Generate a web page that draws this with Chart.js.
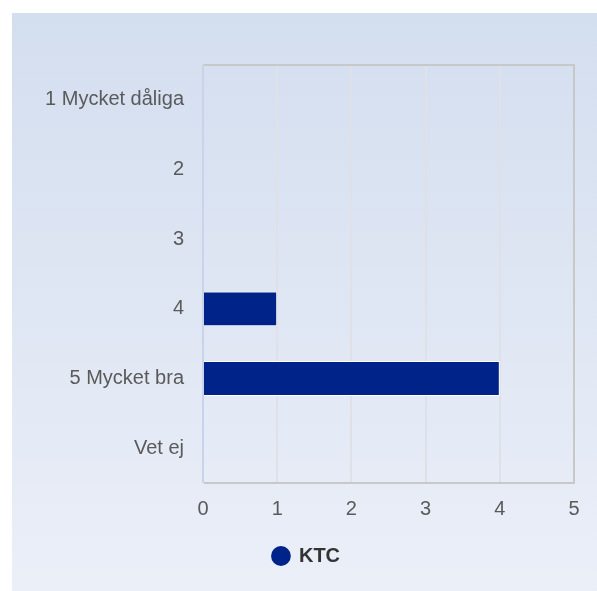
<!DOCTYPE html>
<html>
<head>
<meta charset="utf-8">
<script src="https://cdn.jsdelivr.net/npm/chart.js@4/dist/chart.umd.min.js"></script>
<style>
html,body{margin:0;padding:0;background:#fff;}
#wrap{position:absolute;left:0;top:0;width:597px;height:591px;}
</style>
</head>
<body>
<div id="wrap"><canvas id="c" width="597" height="591"></canvas></div>
<script>
const categories = ["1 Mycket dåliga", "2", "3", "4", "5 Mycket bra", "Vet ej"];
const seriesName = "KTC";
const values = [0, 0, 0, 1, 4, 0];
const xTicks = [0, 1, 2, 3, 4, 5];

const PAD_LEFT = 39;
const bgPlugin = {
  id: 'bg',
  beforeDraw(chart) {
    const ctx = chart.ctx;
    ctx.save();
    ctx.fillStyle = '#ffffff';
    ctx.fillRect(0, 0, chart.width, chart.height);
    const g = ctx.createLinearGradient(0, 13, 0, chart.height);
    g.addColorStop(0, '#d3deef');
    g.addColorStop(1, '#ebeff8');
    ctx.fillStyle = g;
    ctx.fillRect(12, 13, chart.width - 12, chart.height - 13);
    ctx.restore();
  },
  afterDraw(chart) {
    const a = chart.chartArea;
    const ctx = chart.ctx;
    ctx.save();
    ctx.strokeStyle = '#c8c8c8';
    ctx.lineWidth = 2;
    ctx.beginPath();
    ctx.moveTo(a.left, a.top);
    ctx.lineTo(a.right, a.top);
    ctx.lineTo(a.right, a.bottom);
    ctx.lineTo(a.left + 1, a.bottom);
    ctx.stroke();
    ctx.strokeStyle = '#c9d4ea';
    ctx.beginPath();
    ctx.moveTo(a.left, a.top);
    ctx.lineTo(a.left, a.bottom);
    ctx.stroke();
    ctx.restore();
  }
};

new Chart(document.getElementById('c'), {
  type: 'bar',
  data: {
    labels: categories,
    datasets: [{
      label: seriesName,
      data: values,
      backgroundColor: '#00238a',
      borderColor: '#ffffff',
      borderWidth: 1,
      barPercentage: 0.5,
      categoryPercentage: 1.0
    }]
  },
  options: {
    indexAxis: 'y',
    responsive: false,
    animation: false,
    devicePixelRatio: 1,
    layout: { padding: { left: PAD_LEFT, right: 23, top: 65, bottom: 15 } },
    scales: {
      x: {
        min: 0, max: 5,
        afterBuildTicks(scale) { scale.ticks = xTicks.map(v => ({ value: v })); },
        afterFit(scale) { scale.height = 53; },
        grid: { color: '#dfe1e6', lineWidth: 2, drawTicks: false },
        border: { display: false },
        ticks: { color: '#5a5a5a', font: { family: '"Liberation Sans", Arial, sans-serif', size: 20 }, padding: 14 }
      },
      y: {
        afterFit(scale) { scale.width = 203 - PAD_LEFT; },
        grid: { display: false, drawTicks: false },
        border: { display: false },
        ticks: { color: '#5a5a5a', font: { family: '"Liberation Sans", Arial, sans-serif', size: 20 }, padding: 19 }
      }
    },
    plugins: {
      tooltip: { enabled: false },
      legend: {
        position: 'bottom',
        labels: {
          usePointStyle: true,
          pointStyle: 'circle',
          boxWidth: 16,
          boxHeight: 14,
          color: '#333333',
          font: { family: '"Liberation Sans", Arial, sans-serif', size: 20, weight: 'bold' },
          generateLabels(chart) {
            const items = Chart.defaults.plugins.legend.labels.generateLabels(chart);
            items.forEach(it => { it.lineWidth = 0; it.strokeStyle = it.fillStyle; });
            return items;
          }
        }
      }
    }
  },
  plugins: [bgPlugin]
});
</script>
</body>
</html>
